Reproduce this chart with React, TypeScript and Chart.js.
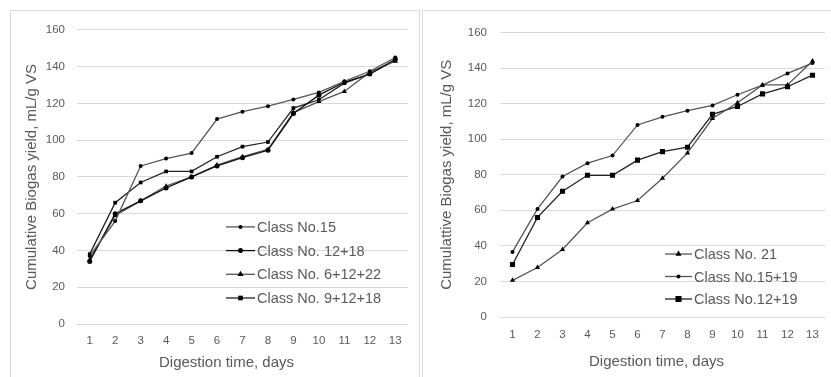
import React, { useEffect, useRef } from "react";
import { Chart, registerables } from "chart.js";

Chart.register(...registerables);

// ---------- data ----------
const days = ["1", "2", "3", "4", "5", "6", "7", "8", "9", "10", "11", "12", "13"];

// left panel
const class15 = [37, 56, 86, 90, 93, 111.5, 115.5, 118.5, 122.2, 126, 132, 137.5, 145];
const class12_18 = [34, 60, 67, 74, 80, 86, 90.5, 94.5, 114.5, 124.5, 131.5, 136, 144];
const class6_12_22 = [35, 59, 67, 75, 80, 86.5, 91, 95, 115, 121, 126.5, 137, 143];
const class9_12_18 = [38, 66, 77, 83, 83, 91, 96.5, 99, 117.5, 122, 131, 136, 143.5];

// right panel
const class21 = [20.6, 27.8, 38, 53, 60.7, 65.5, 78, 92.3, 111.6, 120.5, 130.5, 130.5, 144];
const class15_19 = [36.6, 60.8, 79, 86.5, 90.8, 108, 112.6, 116, 119, 125, 130.4, 137, 142.8];
const class12_19 = [29.5, 56, 70.7, 79.7, 79.7, 88.2, 93, 95.5, 114, 118.4, 125.5, 129.5, 136];

const yMin = 0;
const yMax = 160;
const yStep = 20;

const leftTitles = { y: "Cumulative Biogas yield, mL/g VS", x: "Digestion time, days" };
const rightTitles = { y: "Cumulattive Biogas yield, mL/g VS", x: "Digestion time, days" };

const TEXT = "#595959";
const GRID = "#d9d9d9";
const FONT = "'Liberation Sans', Arial, sans-serif";

// ---------- helpers ----------
function drawMarker(ctx: CanvasRenderingContext2D, style: string, x: number, y: number, r: number, color: string) {
  ctx.save();
  ctx.fillStyle = color;
  ctx.beginPath();
  if (style === "circle") {
    ctx.arc(x, y, r, 0, Math.PI * 2);
  } else if (style === "triangle") {
    ctx.moveTo(x, y - r * 1.15);
    ctx.lineTo(x + r, y + r * 0.6);
    ctx.lineTo(x - r, y + r * 0.6);
    ctx.closePath();
  } else if (style === "rect") {
    const s = r * 1.4;
    ctx.rect(x - s / 2 - 0.5, y - s / 2 - 0.5, s + 1, s + 1);
  }
  ctx.fill();
  ctx.restore();
}

const legendPlugin = {
  id: "customLegend",
  afterDraw(chart: any, _args: any, opts: any) {
    const ctx: CanvasRenderingContext2D = chart.ctx;
    const ca = chart.chartArea;
    const x0 = ca.left + opts.dx;
    const y0 = ca.top + opts.dy;
    chart.data.datasets.forEach((ds: any, i: number) => {
      const yy = y0 + i * opts.rowH;
      ctx.save();
      ctx.strokeStyle = ds.borderColor;
      ctx.lineWidth = ds.borderWidth;
      ctx.beginPath();
      ctx.moveTo(x0, yy);
      ctx.lineTo(x0 + opts.lineLen, yy);
      ctx.stroke();
      ctx.restore();
      drawMarker(ctx, ds.pointStyle, x0 + opts.lineLen / 2, yy, ds.pointRadius, ds.pointBackgroundColor);
      ctx.save();
      ctx.fillStyle = TEXT;
      ctx.font = `${opts.fontSize}px ${FONT}`;
      ctx.textBaseline = "middle";
      ctx.textAlign = "left";
      ctx.fillText(ds.label, x0 + opts.lineLen + 2, yy + 1);
      ctx.restore();
    });
  },
};

const axisTitlePlugin = {
  id: "axisTitles",
  afterDraw(chart: any, _args: any, opts: any) {
    const ctx: CanvasRenderingContext2D = chart.ctx;
    const ca = chart.chartArea;
    ctx.save();
    ctx.fillStyle = TEXT;
    ctx.font = `${opts.fontSize}px ${FONT}`;
    ctx.textAlign = "center";
    ctx.textBaseline = "middle";
    ctx.fillText(opts.x, (ca.left + ca.right) / 2 + opts.xDx, opts.xY);
    ctx.translate(opts.yX, (ca.top + ca.bottom) / 2);
    ctx.rotate(-Math.PI / 2);
    ctx.fillText(opts.y, 0, 0);
    ctx.restore();
  },
};

type Series = { label: string; data: number[]; style: string; r: number; line: string };

function makeConfig(series: Series[], p: any) {
  return {
    type: "line" as const,
    data: {
      labels: days,
      datasets: series.map((s) => ({
        label: s.label,
        data: s.data,
        borderColor: s.line,
        borderWidth: 1.3,
        pointStyle: s.style,
        pointRadius: s.r,
        pointBackgroundColor: "#000",
        pointBorderColor: "#000",
        pointBorderWidth: 0,
        tension: 0,
        fill: false,
      })),
    },
    options: {
      responsive: false,
      animation: false,
      devicePixelRatio: 1,
      layout: { padding: { top: p.top, right: p.right, left: 0, bottom: 0 } },
      plugins: {
        legend: { display: false },
        tooltip: { enabled: false },
        customLegend: p.legend,
        axisTitles: p.titles,
      },
      scales: {
        x: {
          type: "category",
          offset: true,
          grid: { display: false, drawTicks: false },
          border: { display: false },
          ticks: { color: TEXT, font: { size: 11.5, family: FONT }, padding: p.xTickPad, maxRotation: 0 },
          afterFit: (s: any) => {
            s.height = p.xH;
          },
        },
        y: {
          min: yMin,
          max: yMax,
          grid: { color: GRID, lineWidth: 1, drawTicks: false },
          border: { display: false },
          ticks: { stepSize: yStep, color: TEXT, font: { size: 11.5, family: FONT }, padding: p.yTickPad },
          afterFit: (s: any) => {
            s.width = p.yW;
          },
        },
      },
    },
    plugins: [legendPlugin, axisTitlePlugin],
  };
}

function Panel({ series, params, style }: { series: Series[]; params: any; style: React.CSSProperties }) {
  const ref = useRef<HTMLCanvasElement>(null);
  useEffect(() => {
    if (!ref.current) return;
    const chart = new Chart(ref.current, makeConfig(series, params) as any);
    return () => chart.destroy();
  }, []);
  return (
    <div style={{ position: "absolute", border: `1px solid ${GRID}`, background: "#fff", ...style }}>
      <canvas ref={ref} width={408} height={366} style={{ display: "block", width: 408, height: 366 }} />
    </div>
  );
}

const leftSeries: Series[] = [
  { label: "Class No.15", data: class15, style: "circle", r: 2, line: "#555555" },
  { label: "Class No. 12+18", data: class12_18, style: "circle", r: 2.5, line: "#111111" },
  { label: "Class No. 6+12+22", data: class6_12_22, style: "triangle", r: 3, line: "#555555" },
  { label: "Class No. 9+12+18", data: class9_12_18, style: "rect", r: 2.6, line: "#222222" },
];

const rightSeries: Series[] = [
  { label: "Class No. 21", data: class21, style: "triangle", r: 3, line: "#555555" },
  { label: "Class No.15+19", data: class15_19, style: "circle", r: 2, line: "#555555" },
  { label: "Class No.12+19", data: class12_19, style: "rect", r: 3.6, line: "#222222" },
];

const leftParams = {
  top: 17,
  right: 11,
  xH: 53,
  yW: 66,
  xTickPad: 10,
  yTickPad: 12,
  legend: { dx: 149, dy: 197, rowH: 23.7, lineLen: 29, fontSize: 14.5 },
  titles: { x: leftTitles.x, y: leftTitles.y, fontSize: 15, xDx: -16, xY: 352, yX: 21 },
};

const rightParams = {
  top: 21.5,
  right: 6,
  xH: 60,
  yW: 77,
  xTickPad: 10.5,
  yTickPad: 13,
  legend: { dx: 165, dy: 221.5, rowH: 22.5, lineLen: 27, fontSize: 14.5 },
  titles: { x: rightTitles.x, y: rightTitles.y, fontSize: 15, xDx: -6, xY: 351, yX: 24 },
};

export default function App() {
  return (
    <div style={{ position: "fixed", left: 0, top: 0, width: 831, height: 377, overflow: "hidden", background: "#fff" }}>
      <Panel series={leftSeries} params={leftParams} style={{ left: 10, top: 10, width: 408, height: 380 }} />
      <Panel series={rightSeries} params={rightParams} style={{ left: 422, top: 10, width: 420, height: 380 }} />
    </div>
  );
}
